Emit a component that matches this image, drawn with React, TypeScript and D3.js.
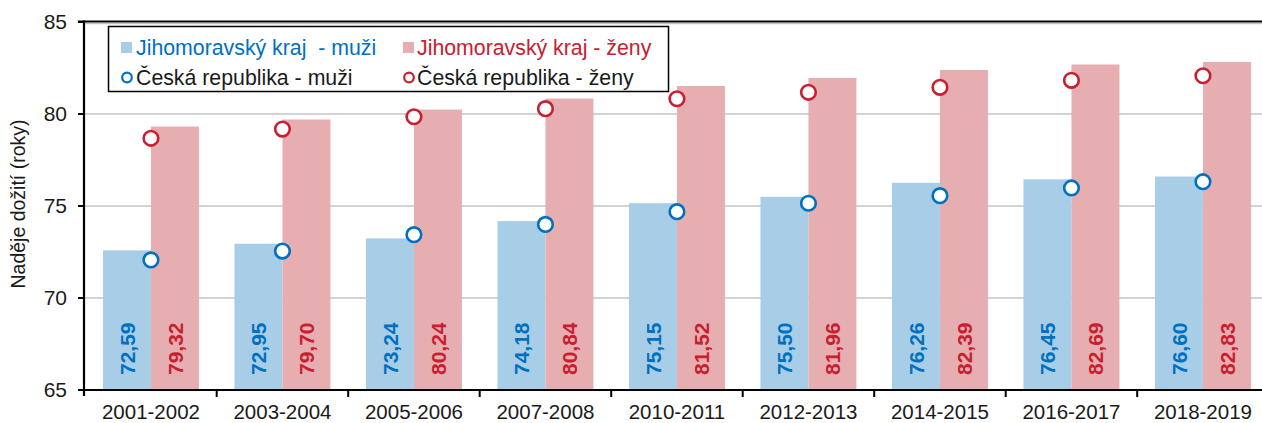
import React from "react";
import * as d3 from "d3";

const categories = ["2001-2002", "2003-2004", "2005-2006", "2007-2008", "2010-2011", "2012-2013", "2014-2015", "2016-2017", "2018-2019"];
const jmkMuzi = [72.59, 72.95, 73.24, 74.18, 75.15, 75.5, 76.26, 76.45, 76.6];
const jmkZeny = [79.32, 79.7, 80.24, 80.84, 81.52, 81.96, 82.39, 82.69, 82.83];
const crMuzi = [72.07, 72.55, 73.44, 74.0, 74.69, 75.15, 75.56, 75.98, 76.32];
const crZeny = [78.68, 79.18, 79.85, 80.29, 80.83, 81.18, 81.45, 81.83, 82.08];
const yTicks = [65, 70, 75, 80, 85];

const BLUE_BAR = "#a8cde7";
const RED_BAR = "#e6aeb1";
const BLUE = "#0070c0";
const RED = "#c8202f";
const FONT = "'Liberation Sans', Arial, Helvetica, sans-serif";

const fmt = (v: number) => v.toFixed(2).replace(".", ",");

export default function App() {
  const W = 1262, H = 423;
  const left = 85.2, right = 1268.7, top = 22, bottom = 390;
  const x = d3.scaleBand<string>().domain(categories).range([left, right]).padding(0);
  const sub = d3.scaleBand<string>().domain(["m", "z"]).range([0, x.bandwidth()]).paddingInner(0).paddingOuter(0.37);
  const y = d3.scaleLinear().domain([65, 85]).range([bottom, top]);
  const bw = sub.bandwidth();

  return (
    <svg width={W} height={H} style={{ position: "absolute", left: 0, top: 0, background: "#fff" }} fontFamily={FONT}>
      <rect x={0} y={0} width={W} height={H} fill="#fff" />
      {/* gridlines */}
      {yTicks.filter((t) => t > 65).map((t) => (
        <line key={t} x1={left} x2={right} y1={y(t) + (t === 85 ? 1.5 : 0)} y2={y(t) + (t === 85 ? 1.5 : 0)} stroke="#c4c4c4" strokeWidth={1.3} />
      ))}
      {/* bars */}
      {categories.map((c, i) => {
        const x0 = x(c)!;
        return (
          <g key={c}>
            <rect x={x0 + sub("m")!} y={y(jmkMuzi[i])} width={bw} height={bottom - y(jmkMuzi[i])} fill={BLUE_BAR} />
            <rect x={x0 + sub("z")!} y={y(jmkZeny[i])} width={bw} height={bottom - y(jmkZeny[i])} fill={RED_BAR} />
            <text transform={`translate(${x0 + sub("m")! + bw / 2 + 7.8},${bottom - 15}) rotate(-90)`} fill={BLUE} fontWeight="bold" fontSize={21}>{fmt(jmkMuzi[i])}</text>
            <text transform={`translate(${x0 + sub("z")! + bw / 2 + 7.8},${bottom - 15}) rotate(-90)`} fill={RED} fontWeight="bold" fontSize={21}>{fmt(jmkZeny[i])}</text>
          </g>
        );
      })}
      {/* circles */}
      {categories.map((c, i) => {
        const cx = x(c)! + x.bandwidth() / 2;
        return (
          <g key={"c" + c}>
            <circle cx={cx} cy={y(crMuzi[i])} r={7.3} fill="#fff" stroke={BLUE} strokeWidth={2.6} />
            <circle cx={cx} cy={y(crZeny[i])} r={7.3} fill="#fff" stroke={RED} strokeWidth={2.6} />
          </g>
        );
      })}
      {/* frame / axes */}
      <line x1={78} x2={right} y1={top - 0.5} y2={top - 0.5} stroke="#000" strokeWidth={2.2} />
      <line x1={84} x2={84} y1={top - 1.5} y2={bottom + 6} stroke="#000" strokeWidth={2.2} />
      <line x1={78} x2={right} y1={bottom} y2={bottom} stroke="#000" strokeWidth={2.2} />
      {yTicks.map((t) => (
        <g key={"yt" + t}>
          <line x1={78} x2={84} y1={y(t)} y2={y(t)} stroke="#000" strokeWidth={2} />
          <text x={67} y={y(t)} dy="0.35em" textAnchor="end" fontSize={21} fill="#1a1a1a">{t}</text>
        </g>
      ))}
      {categories.map((c) => (
        <line key={"xt" + c} x1={x(c)! + x.bandwidth()} x2={x(c)! + x.bandwidth()} y1={bottom} y2={bottom + 7} stroke="#000" strokeWidth={2} />
      ))}
      {categories.map((c) => (
        <text key={"xl" + c} x={x(c)! + x.bandwidth() / 2} y={419} textAnchor="middle" fontSize={20.5} fill="#1a1a1a">{c}</text>
      ))}
      <text transform={`translate(25,204) rotate(-90)`} textAnchor="middle" fontSize={19.5} fill="#1a1a1a">Naděje dožití (roky)</text>
      {/* legend */}
      <rect x={108.5} y={26.5} width={560} height={65} fill="#fff" stroke="#000" strokeWidth={1.5} />
      <rect x={121} y={42} width={11} height={11} fill={BLUE_BAR} />
      <text x={136} y={48} dy="0.35em" fontSize={21.3} fill={BLUE} style={{ whiteSpace: "pre" }}>Jihomoravský kraj  - muži</text>
      <rect x={403} y={42} width={11} height={11} fill={RED_BAR} />
      <text x={417} y={48} dy="0.35em" fontSize={21.3} fill={RED}>Jihomoravský kraj - ženy</text>
      <circle cx={127} cy={77.5} r={4.8} fill="#fff" stroke={BLUE} strokeWidth={2.2} />
      <text x={136} y={77.5} dy="0.35em" fontSize={21.3} fill="#1a1a1a">Česká republika - muži</text>
      <circle cx={409} cy={77.5} r={4.8} fill="#fff" stroke={RED} strokeWidth={2.2} />
      <text x={417} y={77.5} dy="0.35em" fontSize={21.3} fill="#1a1a1a">Česká republika - ženy</text>
    </svg>
  );
}
